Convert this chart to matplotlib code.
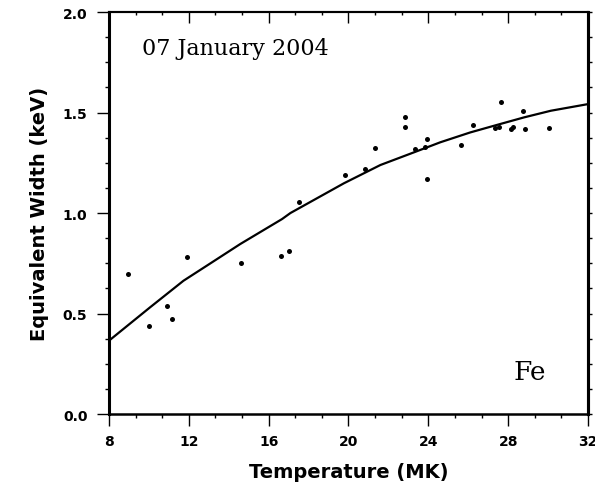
import matplotlib
matplotlib.use('Agg')
import matplotlib.pyplot as plt
from matplotlib.ticker import MultipleLocator
import numpy as np

# measured equivalent widths
temp_mk = [8.97, 10.0, 10.9, 11.18, 11.9, 14.61, 16.62, 17.0, 17.54, 19.83,
           20.84, 21.32, 22.81, 22.81, 23.35, 23.81, 23.91, 23.91, 25.64, 26.22,
           27.34, 27.54, 27.64, 28.13, 28.25, 28.75, 28.85, 30.05]
ew_kev = [0.695, 0.436, 0.539, 0.473, 0.78, 0.75, 0.785, 0.81, 1.056, 1.19,
          1.22, 1.325, 1.48, 1.43, 1.318, 1.327, 1.368, 1.17, 1.34, 1.44,
          1.425, 1.43, 1.55, 1.418, 1.426, 1.51, 1.42, 1.423]

# fitted curve
fit_t = [8.0, 10.06, 11.73, 12.9, 14.58, 16.67, 17.09, 19.77, 21.6, 23.28,
         24.6, 26.1, 27.46, 28.8, 30.14, 32.0]
fit_ew = [0.365, 0.531, 0.663, 0.738, 0.846, 0.970, 1.0, 1.148, 1.239, 1.302,
          1.352, 1.401, 1.439, 1.476, 1.509, 1.542]

fig = plt.figure(figsize=(5.95, 4.89), dpi=100)
ax = fig.add_axes([0.1832, 0.1513, 0.805, 0.822])

ax.plot(fit_t, fit_ew, color='black', lw=1.6)
ax.plot(temp_mk, ew_kev, 'o', color='black', ms=3.6, mew=0)

ax.set_xlim(8, 32)
ax.set_ylim(0, 2.0)
ax.xaxis.set_major_locator(MultipleLocator(4))
ax.xaxis.set_minor_locator(MultipleLocator(4 / 3))
ax.yaxis.set_major_locator(MultipleLocator(0.5))
ax.yaxis.set_minor_locator(MultipleLocator(0.125))
ax.yaxis.set_major_formatter(matplotlib.ticker.FormatStrFormatter('%.1f'))

tickfont = {'family': 'DejaVu Sans', 'weight': 'bold', 'size': 10}
ax.tick_params(axis='both', which='major', direction='out', length=8.5, width=1,
               top=False, right=False)
ax.tick_params(axis='both', which='minor', direction='out', length=3, width=1,
               top=False, right=False)
ax.tick_params(axis='x', which='major', pad=6)
ax.tick_params(axis='y', which='major', pad=7)
for lab in ax.get_xticklabels() + ax.get_yticklabels():
    lab.set_fontproperties(matplotlib.font_manager.FontProperties(**tickfont))

# inward ticks along the top, short outward ticks on the right
top = ax.secondary_xaxis('top')
top.xaxis.set_major_locator(MultipleLocator(4))
top.xaxis.set_minor_locator(MultipleLocator(4 / 3))
top.tick_params(which='major', direction='in', length=8, width=1, labeltop=False)
top.tick_params(which='minor', direction='in', length=2.5, width=1)
top.spines['top'].set_linewidth(1.5)

right = ax.secondary_yaxis('right')
right.yaxis.set_major_locator(MultipleLocator(0.5))
right.yaxis.set_minor_locator(MultipleLocator(0.125))
right.tick_params(which='both', direction='out', length=3, width=1, labelright=False)
right.spines['right'].set_linewidth(2.2)

ax.spines['left'].set_linewidth(2.2)
ax.spines['right'].set_linewidth(2.2)
ax.spines['bottom'].set_linewidth(1.8)
ax.spines['top'].set_linewidth(1.5)

ax.set_xlabel('Temperature (MK)', fontsize=14, fontweight='bold', labelpad=10)
ax.set_ylabel('Equivalent Width (keV)', fontsize=14, fontweight='bold', labelpad=10)

ax.text(9.64, 1.79, '07 January 2004', family='DejaVu Serif', fontsize=16,
        ha='left', va='baseline')
ax.text(28.28, 0.174, 'Fe', family='DejaVu Serif', fontsize=19,
        ha='left', va='baseline')

fig.savefig('out.png', dpi=100)
